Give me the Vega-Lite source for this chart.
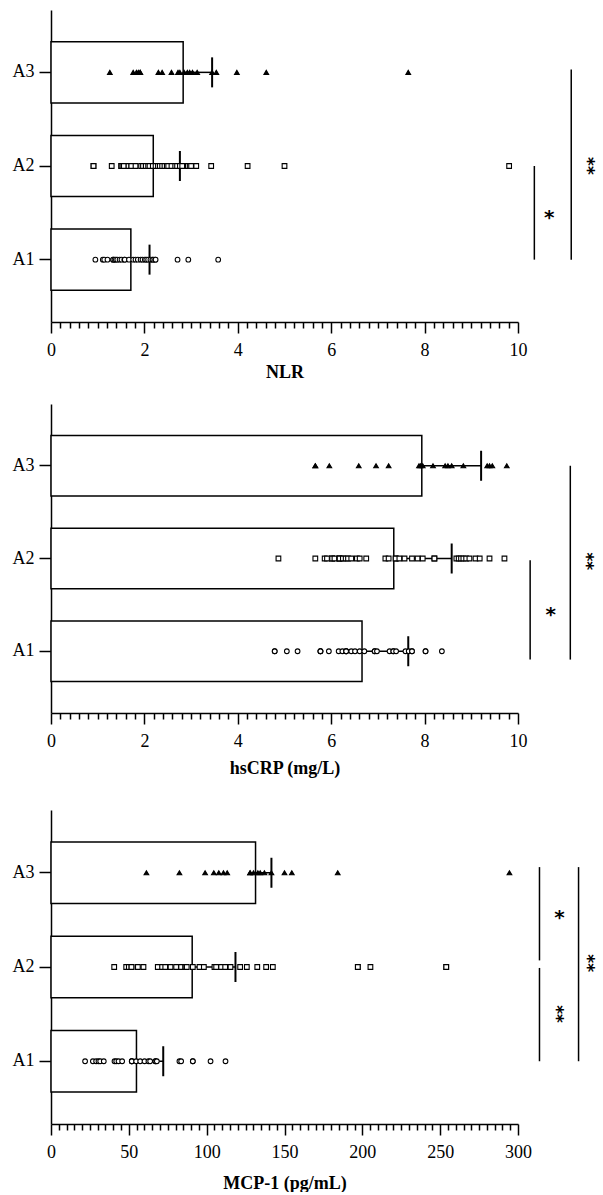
{
  "$schema": "https://vega.github.io/schema/vega-lite/v6.json",
  "padding": {"left": 12, "top": 10, "right": 0, "bottom": 0},
  "spacing": 23,
  "config": {
    "view": {"stroke": null},
    "font": "Liberation Serif",
    "axis": {"domainColor": "black", "domainWidth": 1.5, "tickColor": "black", "tickWidth": 1.5, "labelColor": "black", "labelFont": "Liberation Serif", "labelFontSize": 18, "titleFont": "Liberation Serif", "titleFontSize": 18, "titleFontWeight": "bold", "titleColor": "black", "grid": false},
    "axisY": {"tickSize": 12, "labelPadding": 5, "title": null},
    "axisX": {"labelPadding": 8, "labelOverlap": false, "labelFlush": false, "labelBound": false, "tickCount": 100}
  },
  "datasets": {
    "nlr_sum": [{"g": "A1", "mean": 1.71, "upper": 2.11}, {"g": "A2", "mean": 2.19, "upper": 2.76}, {"g": "A3", "mean": 2.83, "upper": 3.45}],
    "nlr_pts": [
      {"g": "A1", "v": 0.95}, {"g": "A1", "v": 1.11}, {"g": "A1", "v": 1.14}, {"g": "A1", "v": 1.21}, {"g": "A1", "v": 1.33}, {"g": "A1", "v": 1.33}, {"g": "A1", "v": 1.36}, {"g": "A1", "v": 1.39}, {"g": "A1", "v": 1.42}, {"g": "A1", "v": 1.47}, {"g": "A1", "v": 1.51}, {"g": "A1", "v": 1.57}, {"g": "A1", "v": 1.58}, {"g": "A1", "v": 1.67}, {"g": "A1", "v": 1.76}, {"g": "A1", "v": 1.81}, {"g": "A1", "v": 1.86}, {"g": "A1", "v": 1.92}, {"g": "A1", "v": 1.96}, {"g": "A1", "v": 2.01}, {"g": "A1", "v": 2.04}, {"g": "A1", "v": 2.08}, {"g": "A1", "v": 2.13}, {"g": "A1", "v": 2.17}, {"g": "A1", "v": 2.19}, {"g": "A1", "v": 2.23}, {"g": "A1", "v": 2.24}, {"g": "A1", "v": 2.71}, {"g": "A1", "v": 2.94}, {"g": "A1", "v": 3.58},
      {"g": "A2", "v": 0.91}, {"g": "A2", "v": 0.91}, {"g": "A2", "v": 1.30}, {"g": "A2", "v": 1.50}, {"g": "A2", "v": 1.53}, {"g": "A2", "v": 1.53}, {"g": "A2", "v": 1.56}, {"g": "A2", "v": 1.66}, {"g": "A2", "v": 1.72}, {"g": "A2", "v": 1.72}, {"g": "A2", "v": 1.81}, {"g": "A2", "v": 1.93}, {"g": "A2", "v": 1.97}, {"g": "A2", "v": 2.03}, {"g": "A2", "v": 2.03}, {"g": "A2", "v": 2.08}, {"g": "A2", "v": 2.11}, {"g": "A2", "v": 2.18}, {"g": "A2", "v": 2.24}, {"g": "A2", "v": 2.29}, {"g": "A2", "v": 2.33}, {"g": "A2", "v": 2.38}, {"g": "A2", "v": 2.43}, {"g": "A2", "v": 2.48}, {"g": "A2", "v": 2.51}, {"g": "A2", "v": 2.58}, {"g": "A2", "v": 2.66}, {"g": "A2", "v": 2.70}, {"g": "A2", "v": 2.76}, {"g": "A2", "v": 2.81}, {"g": "A2", "v": 2.93}, {"g": "A2", "v": 2.97}, {"g": "A2", "v": 3.00}, {"g": "A2", "v": 3.11}, {"g": "A2", "v": 3.43}, {"g": "A2", "v": 4.21}, {"g": "A2", "v": 5.00}, {"g": "A2", "v": 9.81},
      {"g": "A3", "v": 1.26}, {"g": "A3", "v": 1.76}, {"g": "A3", "v": 1.83}, {"g": "A3", "v": 1.87}, {"g": "A3", "v": 1.91}, {"g": "A3", "v": 1.91}, {"g": "A3", "v": 2.30}, {"g": "A3", "v": 2.38}, {"g": "A3", "v": 2.58}, {"g": "A3", "v": 2.72}, {"g": "A3", "v": 2.76}, {"g": "A3", "v": 2.85}, {"g": "A3", "v": 2.92}, {"g": "A3", "v": 2.97}, {"g": "A3", "v": 3.03}, {"g": "A3", "v": 3.13}, {"g": "A3", "v": 3.45}, {"g": "A3", "v": 3.54}, {"g": "A3", "v": 3.98}, {"g": "A3", "v": 4.61}, {"g": "A3", "v": 7.65}
    ],
    "nlr_sig": [{"x": 10.35, "from": 2.0, "to": 1.0}, {"x": 11.14, "from": 3.03, "to": 1.0}],
    "nlr_star": [{"x": 10.67, "lv": 1.5, "t": "*"}, {"x": 11.57, "lv": 2.0, "t": "**"}],
    "crp_sum": [{"g": "A1", "mean": 6.66, "upper": 7.65}, {"g": "A2", "mean": 7.34, "upper": 8.58}, {"g": "A3", "mean": 7.94, "upper": 9.21}],
    "crp_pts": [
      {"g": "A1", "v": 4.79}, {"g": "A1", "v": 4.79}, {"g": "A1", "v": 5.05}, {"g": "A1", "v": 5.28}, {"g": "A1", "v": 5.77}, {"g": "A1", "v": 5.77}, {"g": "A1", "v": 5.77}, {"g": "A1", "v": 5.95}, {"g": "A1", "v": 6.16}, {"g": "A1", "v": 6.24}, {"g": "A1", "v": 6.32}, {"g": "A1", "v": 6.32}, {"g": "A1", "v": 6.32}, {"g": "A1", "v": 6.43}, {"g": "A1", "v": 6.51}, {"g": "A1", "v": 6.61}, {"g": "A1", "v": 6.71}, {"g": "A1", "v": 6.93}, {"g": "A1", "v": 6.93}, {"g": "A1", "v": 6.98}, {"g": "A1", "v": 7.25}, {"g": "A1", "v": 7.33}, {"g": "A1", "v": 7.33}, {"g": "A1", "v": 7.39}, {"g": "A1", "v": 7.59}, {"g": "A1", "v": 7.66}, {"g": "A1", "v": 7.73}, {"g": "A1", "v": 7.73}, {"g": "A1", "v": 8.02}, {"g": "A1", "v": 8.02}, {"g": "A1", "v": 8.37},
      {"g": "A2", "v": 4.87}, {"g": "A2", "v": 5.66}, {"g": "A2", "v": 5.86}, {"g": "A2", "v": 5.91}, {"g": "A2", "v": 6.02}, {"g": "A2", "v": 6.02}, {"g": "A2", "v": 6.07}, {"g": "A2", "v": 6.18}, {"g": "A2", "v": 6.18}, {"g": "A2", "v": 6.18}, {"g": "A2", "v": 6.25}, {"g": "A2", "v": 6.31}, {"g": "A2", "v": 6.36}, {"g": "A2", "v": 6.43}, {"g": "A2", "v": 6.55}, {"g": "A2", "v": 6.61}, {"g": "A2", "v": 6.75}, {"g": "A2", "v": 7.16}, {"g": "A2", "v": 7.23}, {"g": "A2", "v": 7.38}, {"g": "A2", "v": 7.38}, {"g": "A2", "v": 7.46}, {"g": "A2", "v": 7.57}, {"g": "A2", "v": 7.73}, {"g": "A2", "v": 7.85}, {"g": "A2", "v": 7.96}, {"g": "A2", "v": 8.21}, {"g": "A2", "v": 8.21}, {"g": "A2", "v": 8.68}, {"g": "A2", "v": 8.73}, {"g": "A2", "v": 8.78}, {"g": "A2", "v": 8.83}, {"g": "A2", "v": 8.89}, {"g": "A2", "v": 8.96}, {"g": "A2", "v": 9.09}, {"g": "A2", "v": 9.18}, {"g": "A2", "v": 9.39}, {"g": "A2", "v": 9.71},
      {"g": "A3", "v": 5.66}, {"g": "A3", "v": 5.66}, {"g": "A3", "v": 5.96}, {"g": "A3", "v": 6.59}, {"g": "A3", "v": 6.96}, {"g": "A3", "v": 7.23}, {"g": "A3", "v": 7.88}, {"g": "A3", "v": 7.91}, {"g": "A3", "v": 7.96}, {"g": "A3", "v": 8.18}, {"g": "A3", "v": 8.44}, {"g": "A3", "v": 8.50}, {"g": "A3", "v": 8.58}, {"g": "A3", "v": 8.83}, {"g": "A3", "v": 9.34}, {"g": "A3", "v": 9.39}, {"g": "A3", "v": 9.45}, {"g": "A3", "v": 9.76}
    ],
    "crp_sig": [{"x": 10.26, "from": 1.98, "to": 0.91}, {"x": 11.12, "from": 3.0, "to": 0.91}],
    "crp_star": [{"x": 10.70, "lv": 1.44, "t": "*"}, {"x": 11.55, "lv": 1.97, "t": "**"}],
    "mcp_sum": [{"g": "A1", "mean": 54.9, "upper": 72.1}, {"g": "A2", "mean": 90.7, "upper": 118.5}, {"g": "A3", "mean": 131.4, "upper": 141.6}],
    "mcp_pts": [
      {"g": "A1", "v": 21.9}, {"g": "A1", "v": 26.9}, {"g": "A1", "v": 29.0}, {"g": "A1", "v": 30.5}, {"g": "A1", "v": 31.6}, {"g": "A1", "v": 33.9}, {"g": "A1", "v": 40.8}, {"g": "A1", "v": 41.9}, {"g": "A1", "v": 43.4}, {"g": "A1", "v": 45.7}, {"g": "A1", "v": 51.9}, {"g": "A1", "v": 51.9}, {"g": "A1", "v": 51.9}, {"g": "A1", "v": 54.7}, {"g": "A1", "v": 57.3}, {"g": "A1", "v": 60.1}, {"g": "A1", "v": 62.6}, {"g": "A1", "v": 63.7}, {"g": "A1", "v": 67.1}, {"g": "A1", "v": 67.1}, {"g": "A1", "v": 68.0}, {"g": "A1", "v": 82.5}, {"g": "A1", "v": 83.6}, {"g": "A1", "v": 91.1}, {"g": "A1", "v": 91.1}, {"g": "A1", "v": 102.5}, {"g": "A1", "v": 112.1},
      {"g": "A2", "v": 40.6}, {"g": "A2", "v": 48.3}, {"g": "A2", "v": 50.0}, {"g": "A2", "v": 51.7}, {"g": "A2", "v": 51.7}, {"g": "A2", "v": 55.8}, {"g": "A2", "v": 59.4}, {"g": "A2", "v": 68.6}, {"g": "A2", "v": 71.4}, {"g": "A2", "v": 73.4}, {"g": "A2", "v": 76.8}, {"g": "A2", "v": 80.4}, {"g": "A2", "v": 83.6}, {"g": "A2", "v": 86.4}, {"g": "A2", "v": 86.4}, {"g": "A2", "v": 86.4}, {"g": "A2", "v": 87.2}, {"g": "A2", "v": 91.1}, {"g": "A2", "v": 95.4}, {"g": "A2", "v": 98.2}, {"g": "A2", "v": 105.0}, {"g": "A2", "v": 106.1}, {"g": "A2", "v": 109.3}, {"g": "A2", "v": 111.9}, {"g": "A2", "v": 115.3}, {"g": "A2", "v": 121.5}, {"g": "A2", "v": 125.8}, {"g": "A2", "v": 132.5}, {"g": "A2", "v": 138.2}, {"g": "A2", "v": 142.5}, {"g": "A2", "v": 197.1}, {"g": "A2", "v": 197.1}, {"g": "A2", "v": 205.2}, {"g": "A2", "v": 253.9}, {"g": "A2", "v": 253.9},
      {"g": "A3", "v": 61.3}, {"g": "A3", "v": 82.5}, {"g": "A3", "v": 99.0}, {"g": "A3", "v": 104.6}, {"g": "A3", "v": 107.8}, {"g": "A3", "v": 110.8}, {"g": "A3", "v": 113.2}, {"g": "A3", "v": 127.9}, {"g": "A3", "v": 127.9}, {"g": "A3", "v": 130.1}, {"g": "A3", "v": 132.9}, {"g": "A3", "v": 134.4}, {"g": "A3", "v": 137.1}, {"g": "A3", "v": 141.6}, {"g": "A3", "v": 150.0}, {"g": "A3", "v": 154.7}, {"g": "A3", "v": 184.2}, {"g": "A3", "v": 294.5}
    ],
    "mcp_sig": [{"x": 313.8, "from": 3.06, "to": 2.07}, {"x": 313.8, "from": 1.99, "to": 1.0}, {"x": 338.9, "from": 3.06, "to": 1.0}],
    "mcp_star": [{"x": 326.7, "lv": 2.57, "t": "*"}, {"x": 326.7, "lv": 1.5, "t": "**"}, {"x": 347.0, "lv": 2.04, "t": "**"}]
  },
  "vconcat": [
    {
      "width": 467, "height": 312,
      "layer": [
        {"layer": [
          {"data": {"name": "nlr_sum"}, "mark": {"type": "bar", "fill": "white", "stroke": "black", "strokeWidth": 1.5},
           "encoding": {
             "y": {"field": "g", "type": "nominal", "scale": {"type": "band", "domain": ["A3", "A2", "A1"], "paddingInner": 0.348, "paddingOuter": 0.34}, "axis": {"title": null}},
             "x": {"field": "mean", "type": "quantitative", "scale": {"domain": [0, 10], "nice": false, "zero": true},
                   "axis": {"title": "NLR", "titlePadding": 4, "values": [0,0.2,0.4,0.6,0.8,1,1.2,1.4,1.6,1.8,2,2.2,2.4,2.6,2.8,3,3.2,3.4,3.6,3.8,4,4.2,4.4,4.6,4.8,5,5.2,5.4,5.6,5.8,6,6.2,6.4,6.6,6.8,7,7.2,7.4,7.6,7.8,8,8.2,8.4,8.6,8.8,9,9.2,9.4,9.6,9.8,10],
                            "tickSize": {"condition": {"test": "datum.value % 2 === 0", "value": 11}, "value": 6},
                            "labelExpr": "datum.value % 2 === 0 ? '' + datum.value : ''"}}}},
          {"data": {"name": "nlr_sum"}, "mark": {"type": "rule", "color": "black", "strokeWidth": 1.5},
           "encoding": {"y": {"field": "g", "type": "nominal"}, "x": {"field": "mean", "type": "quantitative"}, "x2": {"field": "upper"}}},
          {"data": {"name": "nlr_sum"}, "mark": {"type": "tick", "color": "black", "opacity": 1, "thickness": 2, "size": 30, "orient": "vertical"},
           "encoding": {"y": {"field": "g", "type": "nominal"}, "x": {"field": "upper", "type": "quantitative"}}},
          {"data": {"name": "nlr_pts"}, "mark": {"type": "point", "filled": true, "stroke": "black", "strokeWidth": 1.1, "opacity": 1, "size": 22},
           "encoding": {"y": {"field": "g", "type": "nominal"}, "x": {"field": "v", "type": "quantitative"},
             "shape": {"field": "g", "type": "nominal", "scale": {"domain": ["A1", "A2", "A3"], "range": ["circle", "square", "triangle-up"]}, "legend": null},
             "fill": {"field": "g", "type": "nominal", "scale": {"domain": ["A1", "A2", "A3"], "range": ["white", "white", "black"]}, "legend": null}}}
        ]},
        {"layer": [
          {"data": {"name": "nlr_sig"}, "mark": {"type": "rule", "color": "black", "strokeWidth": 1.5},
           "encoding": {"x": {"field": "x", "type": "quantitative"}, "y": {"field": "from", "type": "quantitative", "scale": {"domain": [0.334, 3.666], "nice": false, "zero": false}, "axis": null}, "y2": {"field": "to"}}},
          {"data": {"name": "nlr_star"}, "transform": [{"filter": "datum.t === '*'"}], "mark": {"type": "text", "fontSize": 20, "font": "DejaVu Sans", "fontWeight": "bold", "color": "black", "baseline": "middle", "align": "center", "dy": 5},
           "encoding": {"x": {"field": "x", "type": "quantitative"}, "y": {"field": "lv", "type": "quantitative"}, "text": {"field": "t"}}},
          {"data": {"name": "nlr_star"}, "transform": [{"filter": "datum.t === '**'"}], "mark": {"type": "text", "fontSize": 17, "font": "DejaVu Sans", "fontWeight": "bold", "color": "black", "baseline": "middle", "align": "center", "dy": 4, "angle": 90},
           "encoding": {"x": {"field": "x", "type": "quantitative"}, "y": {"field": "lv", "type": "quantitative"}, "text": {"field": "t"}}}
        ]}
      ],
      "resolve": {"scale": {"y": "independent"}}
    },
    {
      "spacing": 33,
      "vconcat": [
        {
          "width": 467, "height": 309,
          "layer": [
            {"layer": [
              {"data": {"name": "crp_sum"}, "mark": {"type": "bar", "fill": "white", "stroke": "black", "strokeWidth": 1.5},
               "encoding": {
                 "y": {"field": "g", "type": "nominal", "scale": {"type": "band", "domain": ["A3", "A2", "A1"], "paddingInner": 0.348, "paddingOuter": 0.34}, "axis": {"title": null}},
                 "x": {"field": "mean", "type": "quantitative", "scale": {"domain": [0, 10], "nice": false, "zero": true},
                       "axis": {"title": "hsCRP (mg/L)", "titlePadding": 9, "values": [0,0.2,0.4,0.6,0.8,1,1.2,1.4,1.6,1.8,2,2.2,2.4,2.6,2.8,3,3.2,3.4,3.6,3.8,4,4.2,4.4,4.6,4.8,5,5.2,5.4,5.6,5.8,6,6.2,6.4,6.6,6.8,7,7.2,7.4,7.6,7.8,8,8.2,8.4,8.6,8.8,9,9.2,9.4,9.6,9.8,10],
                                "tickSize": {"condition": {"test": "datum.value % 2 === 0", "value": 11}, "value": 6},
                                "labelExpr": "datum.value % 2 === 0 ? '' + datum.value : ''"}}}},
              {"data": {"name": "crp_sum"}, "mark": {"type": "rule", "color": "black", "strokeWidth": 1.5},
               "encoding": {"y": {"field": "g", "type": "nominal"}, "x": {"field": "mean", "type": "quantitative"}, "x2": {"field": "upper"}}},
              {"data": {"name": "crp_sum"}, "mark": {"type": "tick", "color": "black", "opacity": 1, "thickness": 2, "size": 30, "orient": "vertical"},
               "encoding": {"y": {"field": "g", "type": "nominal"}, "x": {"field": "upper", "type": "quantitative"}}},
              {"data": {"name": "crp_pts"}, "mark": {"type": "point", "filled": true, "stroke": "black", "strokeWidth": 1.1, "opacity": 1, "size": 22},
               "encoding": {"y": {"field": "g", "type": "nominal"}, "x": {"field": "v", "type": "quantitative"},
                 "shape": {"field": "g", "type": "nominal", "scale": {"domain": ["A1", "A2", "A3"], "range": ["circle", "square", "triangle-up"]}, "legend": null},
                 "fill": {"field": "g", "type": "nominal", "scale": {"domain": ["A1", "A2", "A3"], "range": ["white", "white", "black"]}, "legend": null}}}
            ]},
            {"layer": [
              {"data": {"name": "crp_sig"}, "mark": {"type": "rule", "color": "black", "strokeWidth": 1.5},
               "encoding": {"x": {"field": "x", "type": "quantitative"}, "y": {"field": "from", "type": "quantitative", "scale": {"domain": [0.334, 3.666], "nice": false, "zero": false}, "axis": null}, "y2": {"field": "to"}}},
              {"data": {"name": "crp_star"}, "transform": [{"filter": "datum.t === '*'"}], "mark": {"type": "text", "fontSize": 20, "font": "DejaVu Sans", "fontWeight": "bold", "color": "black", "baseline": "middle", "align": "center", "dy": 5},
               "encoding": {"x": {"field": "x", "type": "quantitative"}, "y": {"field": "lv", "type": "quantitative"}, "text": {"field": "t"}}},
              {"data": {"name": "crp_star"}, "transform": [{"filter": "datum.t === '**'"}], "mark": {"type": "text", "fontSize": 17, "font": "DejaVu Sans", "fontWeight": "bold", "color": "black", "baseline": "middle", "align": "center", "dy": 4, "angle": 90},
               "encoding": {"x": {"field": "x", "type": "quantitative"}, "y": {"field": "lv", "type": "quantitative"}, "text": {"field": "t"}}}
            ]}
          ],
          "resolve": {"scale": {"y": "independent"}}
        },
        {
          "width": 467, "height": 314,
          "layer": [
            {"layer": [
              {"data": {"name": "mcp_sum"}, "mark": {"type": "bar", "fill": "white", "stroke": "black", "strokeWidth": 1.5},
               "encoding": {
                 "y": {"field": "g", "type": "nominal", "scale": {"type": "band", "domain": ["A3", "A2", "A1"], "paddingInner": 0.348, "paddingOuter": 0.34}, "axis": {"title": null}},
                 "x": {"field": "mean", "type": "quantitative", "scale": {"domain": [0, 300], "nice": false, "zero": true},
                       "axis": {"title": "MCP-1 (pg/mL)", "titlePadding": 13, "values": [0,5,10,15,20,25,30,35,40,45,50,55,60,65,70,75,80,85,90,95,100,105,110,115,120,125,130,135,140,145,150,155,160,165,170,175,180,185,190,195,200,205,210,215,220,225,230,235,240,245,250,255,260,265,270,275,280,285,290,295,300],
                                "tickSize": {"condition": {"test": "datum.value % 50 === 0", "value": 11}, "value": 6},
                                "labelExpr": "datum.value % 50 === 0 ? '' + datum.value : ''"}}}},
              {"data": {"name": "mcp_sum"}, "mark": {"type": "rule", "color": "black", "strokeWidth": 1.5},
               "encoding": {"y": {"field": "g", "type": "nominal"}, "x": {"field": "mean", "type": "quantitative"}, "x2": {"field": "upper"}}},
              {"data": {"name": "mcp_sum"}, "mark": {"type": "tick", "color": "black", "opacity": 1, "thickness": 2, "size": 30, "orient": "vertical"},
               "encoding": {"y": {"field": "g", "type": "nominal"}, "x": {"field": "upper", "type": "quantitative"}}},
              {"data": {"name": "mcp_pts"}, "mark": {"type": "point", "filled": true, "stroke": "black", "strokeWidth": 1.1, "opacity": 1, "size": 22},
               "encoding": {"y": {"field": "g", "type": "nominal"}, "x": {"field": "v", "type": "quantitative"},
                 "shape": {"field": "g", "type": "nominal", "scale": {"domain": ["A1", "A2", "A3"], "range": ["circle", "square", "triangle-up"]}, "legend": null},
                 "fill": {"field": "g", "type": "nominal", "scale": {"domain": ["A1", "A2", "A3"], "range": ["white", "white", "black"]}, "legend": null}}}
            ]},
            {"layer": [
              {"data": {"name": "mcp_sig"}, "mark": {"type": "rule", "color": "black", "strokeWidth": 1.5},
               "encoding": {"x": {"field": "x", "type": "quantitative"}, "y": {"field": "from", "type": "quantitative", "scale": {"domain": [0.334, 3.666], "nice": false, "zero": false}, "axis": null}, "y2": {"field": "to"}}},
              {"data": {"name": "mcp_star"}, "transform": [{"filter": "datum.t === '*'"}], "mark": {"type": "text", "fontSize": 20, "font": "DejaVu Sans", "fontWeight": "bold", "color": "black", "baseline": "middle", "align": "center", "dy": 5},
               "encoding": {"x": {"field": "x", "type": "quantitative"}, "y": {"field": "lv", "type": "quantitative"}, "text": {"field": "t"}}},
              {"data": {"name": "mcp_star"}, "transform": [{"filter": "datum.t === '**'"}], "mark": {"type": "text", "fontSize": 17, "font": "DejaVu Sans", "fontWeight": "bold", "color": "black", "baseline": "middle", "align": "center", "dy": 4, "angle": 90},
               "encoding": {"x": {"field": "x", "type": "quantitative"}, "y": {"field": "lv", "type": "quantitative"}, "text": {"field": "t"}}}
            ]}
          ],
          "resolve": {"scale": {"y": "independent"}}
        }
      ]
    }
  ]
}
